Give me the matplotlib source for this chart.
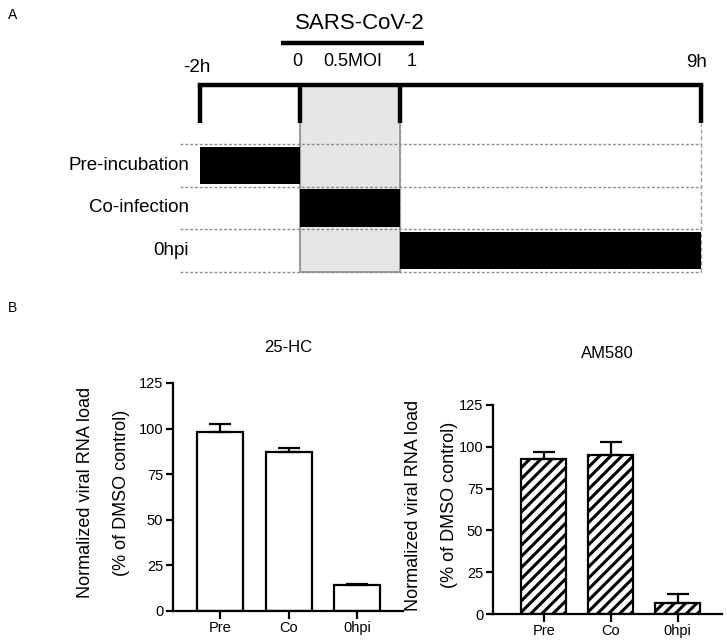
"""
Two-part figure: (A) treatment timeline schematic, (B) viral RNA load bar charts.
"""

import matplotlib
matplotlib.use("Agg")
import matplotlib.pyplot as plt
import numpy as np

plt.rcParams["font.family"] = ["Liberation Sans", "DejaVu Sans"]
plt.rcParams["hatch.linewidth"] = 2.2

# ---- Panel A data (schematic, not to scale) ----
time_labels = ["-2h", "0", "1", "9h"]
time_pos = [0, 1, 2, 5]                # schematic x position of each time point
treatments = ["Pre-incubation", "Co-infection", "0hpi"]
treat_start = [0, 1, 2]                # index into time_pos
treat_end = [1, 2, 3]
virus_label = "SARS-CoV-2"
moi_label = "0.5MOI"

# ---- Panel B data ----
conditions = ["Pre", "Co", "0hpi"]
hc_mean = [98.4, 87.0, 14.1]
hc_err = [4.1, 2.6, 0.9]
am_mean = [92.5, 94.9, 6.8]
am_err = [4.2, 8.0, 5.0]
yticks = [0, 25, 50, 75, 100, 125]

W, H = 727, 644
fig = plt.figure(figsize=(W / 100, H / 100), dpi=100)

# ================= Panel A =================
# axes spans full width, top 290 px; 1 x-unit ~ 100 px, 1 y-unit ~ 42.7 px
axA = fig.add_axes([0, 1 - 290 / H, 1, 290 / H])
axA.set_xlim(-1.996, 5.26)
axA.set_ylim(-0.42, 6.37)
axA.axis("off")

x0, x1, x2, x3 = time_pos
n_rows = len(treatments)
bracket_y = 4.38
tick_y = 3.49

# grey infection window
axA.fill_between([x1, x2], 0, bracket_y, color="#e6e6e6", edgecolor="#8a8a8a",
                 linewidth=1.2, zorder=1)

# dashed row separators and vertical guides
for r in range(n_rows + 1):
    axA.plot([-0.2, x3], [r, r], color="#8c8c8c", lw=1.0, ls=(0, (2, 1.5)), zorder=2)
for xv in [x1, x2, x3]:
    axA.plot([xv, xv], [0, tick_y], color="#9a9a9a", lw=1.0, ls=(0, (3, 2)), zorder=2)

# treatment bars
for i, name in enumerate(treatments):
    yc = n_rows - i - 0.5
    s, e = time_pos[treat_start[i]], time_pos[treat_end[i]]
    axA.barh(yc, e - s, left=s, height=0.87, color="black", zorder=3)
    axA.text(-0.11, yc, name, ha="right", va="center", fontsize=13.5)

# timeline bracket
axA.plot([x0, x3], [bracket_y, bracket_y], color="black", lw=3.2,
         solid_capstyle="projecting", zorder=4)
for xv in time_pos:
    axA.plot([xv, xv], [tick_y, bracket_y], color="black", lw=3.2,
             solid_capstyle="butt", zorder=4)

# time labels
axA.text(x0 - 0.03, 4.78, time_labels[0], ha="center", va="center", fontsize=13.5)
axA.text(x1 - 0.03, 4.92, time_labels[1], ha="center", va="center", fontsize=13)
axA.text(x2 + 0.11, 4.92, time_labels[2], ha="center", va="center", fontsize=13)
axA.text(x3 - 0.04, 4.90, time_labels[3], ha="center", va="center", fontsize=13.5)
axA.text((x1 + x2) / 2 + 0.02, 4.92, moi_label, ha="center", va="center", fontsize=13)

# virus label + bar
axA.plot([x1 - 0.19, x2 + 0.24], [5.36, 5.36], color="black", lw=3.2,
         solid_capstyle="butt")
axA.text((x1 + x2) / 2 + 0.10, 5.83, virus_label, ha="center", va="center", fontsize=16)

fig.text(8 / W, 1 - 15 / H, "A", ha="left", va="center", fontsize=10)
fig.text(8 / W, 1 - 308 / H, "B", ha="left", va="center", fontsize=10)


# ================= Panel B =================
def bar_panel(rect, xlim, means, errs, title, hatch, title_off, lab_off):
    ax = fig.add_axes(rect)
    w_px = rect[2] * W
    h_px = rect[3] * H
    x = np.arange(len(conditions))
    ax.bar(x, means, width=0.67, color="white", edgecolor="black", linewidth=1.6,
           hatch=hatch, zorder=2)
    ax.errorbar(x, means, yerr=[np.zeros(len(errs)), errs], fmt="none",
                ecolor="black", elinewidth=1.6, capsize=8, capthick=1.6, zorder=3)
    ax.set_xlim(*xlim)
    ax.set_ylim(0, 125)
    ax.set_yticks(yticks)
    ax.set_xticks(x)
    ax.set_xticklabels(conditions)
    for side in ["top", "right"]:
        ax.spines[side].set_visible(False)
    for side in ["left", "bottom"]:
        ax.spines[side].set_linewidth(1.6)
    ax.tick_params(axis="both", direction="out", width=1.6, length=5, labelsize=10.5,
                   pad=2)
    ax.tick_params(axis="x", length=5.5, pad=2)
    # two-line y label, placed by pixel offset from the y axis
    ymid = 0.5 + 0.02
    ax.text(-lab_off[0] / w_px, ymid, "Normalized viral RNA load", rotation=90,
            ha="center", va="center", fontsize=13, transform=ax.transAxes)
    ax.text(-lab_off[1] / w_px, ymid, "(% of DMSO control)", rotation=90,
            ha="center", va="center", fontsize=13, transform=ax.transAxes)
    ax.text(0.5, 1 + title_off / h_px, title, ha="center", va="center",
            fontsize=12, transform=ax.transAxes)
    return ax


axL = bar_panel([173 / W, 1 - 611 / H, 230 / W, 228 / H], (-0.686, 2.67),
                hc_mean, hc_err, "25-HC", None, 35, (88, 51))

axR = bar_panel([493 / W, 1 - 614 / H, 229 / W, 209 / H], (-0.76, 2.66),
                am_mean, am_err, "AM580", "///", 52, (80, 43))

fig.savefig("out.png", dpi=100)
